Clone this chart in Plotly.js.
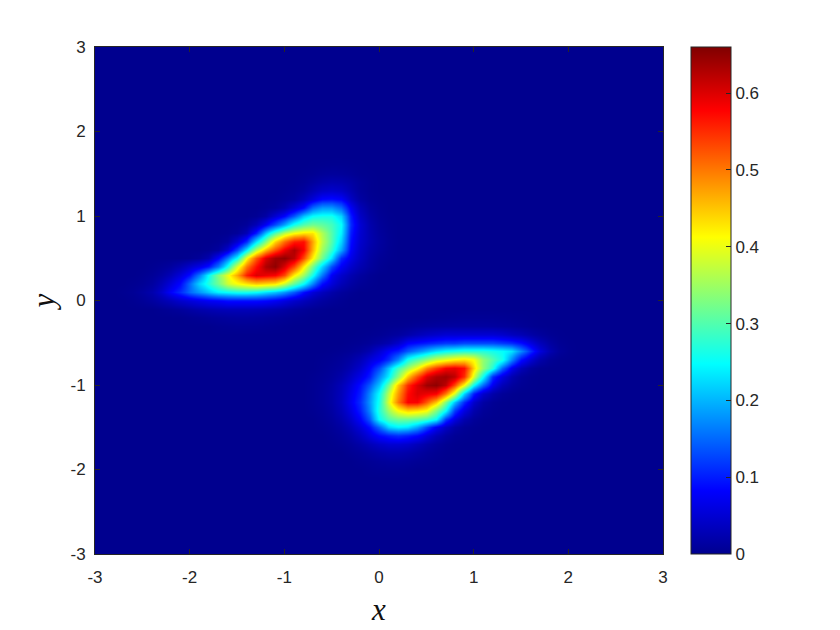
<!DOCTYPE html>
<html>
<head>
<meta charset="utf-8">
<script src="https://cdn.plot.ly/plotly-3.0.1.min.js"></script>
<style>body{margin:0;background:#fff}</style>
</head>
<body>
<div id="graph" style="width:840px;height:630px"></div>
<script>
// values on a 0.1 grid
// each row: y, x of first value, then values going right. everything else is 0
let upperBlob = [
  [1.6, -0.7, 0.001,0.002,0.003,0.003,0.002,0.001],
  [1.5, -0.8, 0.002,0.004,0.008,0.01,0.009,0.006,0.002,0.001],
  [1.4, -0.9, 0.002,0.005,0.012,0.02,0.025,0.023,0.016,0.007,0.002],
  [1.3, -1.0, 0.002,0.005,0.012,0.026,0.04,0.045,0.04,0.024,0.008,0.002],
  [1.2, -1.1, 0.002,0.006,0.012,0.03,0.055,0.085,0.09,0.08,0.04,0.014,0.004,0.001],
  [1.1, -1.2, 0.003,0.008,0.022,0.05,0.085,0.15,0.18,0.18,0.15,0.075,0.03,0.01,0.003],
  [1.0, -1.3, 0.004,0.016,0.05,0.085,0.14,0.21,0.25,0.26,0.26,0.22,0.1,0.04,0.016,0.005,0.001],
  [0.9, -1.5, 0.002,0.008,0.03,0.075,0.13,0.19,0.26,0.3,0.32,0.31,0.29,0.25,0.11,0.05,0.022,0.008,0.002],
  [0.8, -1.6, 0.002,0.008,0.03,0.1,0.21,0.3,0.37,0.41,0.43,0.43,0.36,0.3,0.24,0.1,0.048,0.024,0.01,0.003],
  [0.7, -1.7, 0.003,0.012,0.05,0.11,0.23,0.33,0.44,0.51,0.56,0.57,0.47,0.37,0.3,0.22,0.09,0.045,0.025,0.012,0.004],
  [0.6, -1.8, 0.003,0.012,0.05,0.13,0.24,0.37,0.46,0.53,0.59,0.63,0.58,0.46,0.35,0.28,0.19,0.08,0.04,0.02,0.01,0.003],
  [0.5, -2.0, 0.002,0.008,0.025,0.08,0.16,0.25,0.41,0.52,0.6,0.64,0.65,0.62,0.53,0.42,0.32,0.23,0.11,0.065,0.035,0.016,0.006,0.002],
  [0.4, -2.4, 0.002,0.006,0.012,0.025,0.045,0.065,0.095,0.16,0.26,0.39,0.5,0.57,0.63,0.65,0.6,0.53,0.42,0.32,0.22,0.13,0.075,0.045,0.025,0.012,0.004],
  [0.3, -2.5, 0.002,0.006,0.015,0.03,0.055,0.09,0.16,0.25,0.33,0.4,0.47,0.56,0.6,0.59,0.58,0.53,0.42,0.35,0.26,0.16,0.075,0.045,0.025,0.012,0.004],
  [0.2, -2.6, 0.002,0.005,0.012,0.03,0.055,0.085,0.15,0.22,0.27,0.32,0.38,0.41,0.43,0.45,0.44,0.43,0.38,0.31,0.25,0.17,0.09,0.055,0.03,0.015,0.006,0.002],
  [0.1, -2.7, 0.002,0.005,0.012,0.022,0.045,0.08,0.11,0.15,0.18,0.21,0.24,0.25,0.26,0.26,0.25,0.23,0.21,0.18,0.14,0.09,0.055,0.035,0.02,0.01,0.004],
  [0.0, -2.6, 0.002,0.006,0.012,0.022,0.032,0.045,0.055,0.065,0.075,0.08,0.09,0.09,0.09,0.09,0.085,0.075,0.06,0.045,0.033,0.022,0.013,0.007,0.003],
  [-0.1, -2.3, 0.003,0.006,0.01,0.016,0.022,0.026,0.03,0.032,0.032,0.032,0.03,0.027,0.023,0.018,0.012,0.008,0.004,0.002],
  [-0.2, -2.0, 0.002,0.004,0.007,0.009,0.011,0.012,0.012,0.011,0.009,0.007,0.005,0.003,0.002],
  [-0.3, -1.7, 0.002,0.003,0.004,0.004,0.004,0.003,0.002,0.001]
];
let lowerBlob = [
  [-0.2, 0.5, 0.001,0.002,0.003,0.004,0.005,0.005,0.005,0.005,0.004,0.003,0.002,0.001],
  [-0.3, 0.0, 0.001,0.002,0.003,0.005,0.008,0.01,0.012,0.013,0.014,0.014,0.014,0.014,0.013,0.011,0.009,0.006,0.003,0.001],
  [-0.4, -0.2, 0.001,0.002,0.004,0.008,0.012,0.02,0.03,0.038,0.044,0.05,0.05,0.05,0.05,0.05,0.05,0.045,0.035,0.028,0.018,0.01,0.004,0.001],
  [-0.5, -0.3, 0.002,0.004,0.008,0.015,0.025,0.045,0.08,0.09,0.1,0.11,0.12,0.12,0.13,0.13,0.13,0.13,0.12,0.11,0.09,0.06,0.032,0.014,0.004,0.001],
  [-0.6, -0.5, 0.001,0.003,0.006,0.012,0.025,0.05,0.08,0.1,0.14,0.17,0.2,0.23,0.25,0.26,0.27,0.27,0.27,0.26,0.25,0.23,0.17,0.11,0.055,0.025,0.008,0.002],
  [-0.7, -0.6, 0.002,0.004,0.008,0.016,0.03,0.055,0.075,0.11,0.17,0.26,0.3,0.34,0.38,0.4,0.42,0.43,0.41,0.34,0.3,0.26,0.17,0.09,0.05,0.02,0.006,0.001],
  [-0.8, -0.6, 0.003,0.007,0.012,0.025,0.045,0.08,0.13,0.21,0.29,0.35,0.41,0.49,0.54,0.58,0.59,0.57,0.44,0.34,0.27,0.15,0.07,0.03,0.01,0.002],
  [-0.9, -0.7, 0.002,0.005,0.01,0.02,0.04,0.065,0.1,0.17,0.24,0.34,0.45,0.53,0.6,0.63,0.64,0.62,0.55,0.39,0.25,0.11,0.06,0.025,0.008,0.002],
  [-1.0, -0.7, 0.003,0.007,0.015,0.03,0.055,0.09,0.14,0.21,0.32,0.45,0.55,0.6,0.64,0.65,0.62,0.53,0.41,0.25,0.15,0.07,0.03,0.012,0.004,0.001],
  [-1.1, -0.7, 0.003,0.008,0.017,0.033,0.065,0.1,0.17,0.25,0.37,0.48,0.57,0.6,0.59,0.58,0.5,0.39,0.22,0.1,0.045,0.02,0.007,0.002],
  [-1.2, -0.7, 0.003,0.008,0.017,0.035,0.07,0.11,0.18,0.26,0.39,0.5,0.58,0.58,0.52,0.45,0.33,0.21,0.11,0.045,0.016,0.005,0.001],
  [-1.3, -0.7, 0.002,0.006,0.014,0.03,0.06,0.1,0.17,0.27,0.35,0.41,0.44,0.43,0.41,0.33,0.25,0.12,0.06,0.022,0.007,0.002],
  [-1.4, -0.6, 0.004,0.01,0.022,0.045,0.08,0.14,0.25,0.3,0.32,0.32,0.31,0.29,0.25,0.12,0.06,0.024,0.008,0.002],
  [-1.5, -0.6, 0.002,0.006,0.014,0.03,0.055,0.09,0.15,0.22,0.24,0.23,0.19,0.13,0.075,0.04,0.017,0.006,0.002],
  [-1.6, -0.5, 0.003,0.008,0.018,0.035,0.06,0.085,0.1,0.11,0.1,0.085,0.055,0.03,0.014,0.005,0.002],
  [-1.7, -0.5, 0.001,0.004,0.009,0.018,0.03,0.042,0.05,0.05,0.045,0.032,0.02,0.01,0.004,0.001],
  [-1.8, -0.3, 0.004,0.008,0.014,0.02,0.024,0.024,0.02,0.014,0.008,0.004,0.001],
  [-1.9, -0.2, 0.003,0.005,0.008,0.01,0.01,0.008,0.005,0.003,0.001],
  [-2.0, -0.1, 0.002,0.003,0.003,0.003,0.002]
];

let axisTicks = [-3,-2,-1,0,1,2,3];
let axisLabels = ['-3','-2','-1','0','1','2','3'];
let barTicks = [0,0.1,0.2,0.3,0.4,0.5,0.6];
let barLabels = ['0','0.1','0.2','0.3','0.4','0.5','0.6'];

// matlab jet
let jet = [
  [0,'#00008f'],[0.125,'#0000ff'],[0.375,'#00ffff'],
  [0.625,'#ffff00'],[0.875,'#ff0000'],[1,'#800000']
];

// 61 x 61 table for the heatmap, first row is y = -3
let zValues = [];
for (let j = 0; j < 61; j++) {
  zValues.push(new Array(61).fill(0));
}
upperBlob.concat(lowerBlob).forEach(function(row) {
  let j = Math.round((row[0] + 3) * 10);
  let i0 = Math.round((row[1] + 3) * 10);
  for (let k = 2; k < row.length; k++) {
    zValues[j][i0 + k - 2] = row[k];
  }
});

let inkColor = '#262626';
let tickFont = {family: 'Liberation Sans, Arial, sans-serif', size: 17, color: inkColor};
let titleFont = {family: 'Liberation Serif, serif', size: 31, color: '#111111'};

let trace = {
  type: 'heatmap',
  x0: -3,
  dx: 0.1,
  y0: -3,
  dy: 0.1,
  z: zValues,
  zmin: 0,
  zmax: 0.66,
  zsmooth: 'best',
  colorscale: jet,
  hoverinfo: 'skip',
  colorbar: {
    x: 1.0493, xanchor: 'left', xpad: 0,
    y: 0, yanchor: 'bottom', ypad: 0,
    len: 1, thickness: 40,
    outlinecolor: inkColor, outlinewidth: 1,
    tickmode: 'array', tickvals: barTicks, ticktext: barLabels,
    ticks: 'inside', ticklen: 5, tickcolor: inkColor, tickwidth: 1,
    tickfont: tickFont
  }
};

function axisStyle(titleText, standoff, labelGap) {
  return {
    title: {text: '<i>' + titleText + '</i>', font: titleFont, standoff: standoff},
    range: [-3, 3],
    tickmode: 'array',
    tickvals: axisTicks,
    ticktext: axisLabels,
    ticks: 'inside',
    ticklen: 5,
    tickcolor: inkColor,
    tickwidth: 1,
    tickfont: tickFont,
    ticklabelstandoff: labelGap,
    showline: true,
    linecolor: inkColor,
    linewidth: 1,
    mirror: 'ticks',
    showgrid: false,
    zeroline: false
  };
}

let layout = {
  width: 840,
  height: 630,
  margin: {l: 95, r: 177, t: 47, b: 76},
  paper_bgcolor: '#ffffff',
  plot_bgcolor: '#ffffff',
  xaxis: axisStyle('x', 11, 8),
  yaxis: axisStyle('y', 6, 5)
};

Plotly.newPlot('graph', [trace], layout, {displayModeBar: false});
</script>
</body>
</html>
